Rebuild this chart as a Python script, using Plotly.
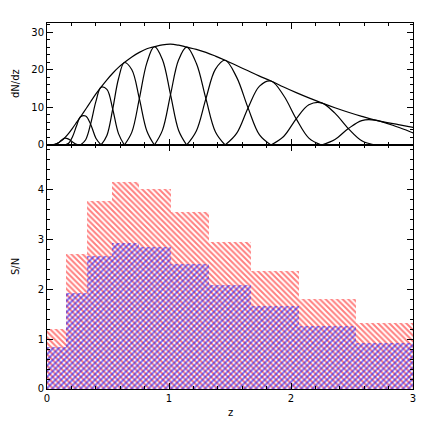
import plotly.graph_objects as go

# redshift grid (quarter steps between bin nodes) and total dN/dz
ENV_Z = [0.035, 0.0625, 0.09, 0.1175,
         0.145, 0.1775, 0.21, 0.2425,
         0.275, 0.317, 0.359, 0.401,
         0.443, 0.491, 0.5385, 0.586,
         0.634, 0.6955, 0.757, 0.8185,
         0.88, 0.946, 1.0125, 1.079,
         1.145, 1.224, 1.3025, 1.381,
         1.46, 1.554, 1.648, 1.742,
         1.836, 1.9395, 2.043, 2.1465,
         2.25, 2.36, 2.47, 2.58,
         2.69, 2.88, 3.07, 3.26,
         3.45]
ENV_DNDZ = [0.0, 0.15, 0.5, 1.1,
            1.9, 3.1, 4.5, 6.0,
            7.5, 9.5, 11.55, 13.55,
            15.35, 17.3, 19.05, 20.6,
            21.9, 23.4, 24.6, 25.55,
            26.1, 26.6, 26.8, 26.5,
            26.0, 25.4, 24.6, 23.6,
            22.5, 21.1, 19.7, 18.3,
            17.0, 15.4, 13.9, 12.5,
            11.2, 9.9, 8.7, 7.6,
            6.6, 5.4, 4.3, 3.4,
            2.7]

# per-bin dN/dz, each on ENV_Z[4k : 4k+9]
BIN_DNDZ = [
    [0, 0.1, 0.5, 1.25, 1.8, 1.55, 0.8, 0.2, 0],
    [0, 0.45, 2.25, 5.1, 7.5, 7.7, 5.4, 1.8, 0],
    [0, 1.39, 5.78, 11.57, 15.35, 14.77, 9.53, 3.01, 0],
    [0, 2.53, 9.53, 17.59, 21.9, 19.98, 12.3, 3.73, 0],
    [0, 3.42, 12.3, 21.82, 26.1, 22.72, 13.4, 3.87, 0],
    [0, 3.88, 13.4, 22.63, 26.0, 21.69, 12.3, 3.45, 0],
    [0, 3.71, 12.3, 20.15, 22.5, 18.02, 9.85, 2.67, 0],
    [0, 3.08, 9.85, 15.63, 17.0, 13.15, 6.95, 1.83, 0],
    [0, 2.25, 6.95, 10.68, 11.2, 8.45, 4.35, 1.11, 0],
    [0, 1.45, 4.35, 6.49, 6.6, 4.7, 2.4, 0.6, 0],
]

# S/N histogram
BIN_EDGES = [0.0, 0.158, 0.33, 0.53, 0.757, 1.02, 1.328, 1.672, 2.068, 2.53, 3.0]
SN_RED = [1.20, 2.71, 3.78, 4.16, 4.02, 3.56, 2.96, 2.37, 1.80, 1.32]
SN_BLUE = [0.84, 1.92, 2.67, 2.94, 2.85, 2.52, 2.09, 1.67, 1.27, 0.92]

centers = [(a + b) / 2 for a, b in zip(BIN_EDGES[:-1], BIN_EDGES[1:])]
widths = [b - a for a, b in zip(BIN_EDGES[:-1], BIN_EDGES[1:])]

fig = go.Figure()

# top panel: redshift distributions
fig.add_trace(go.Scatter(
    x=ENV_Z, y=ENV_DNDZ, mode='lines',
    line=dict(color='black', width=1.2, shape='spline'),
    xaxis='x2', yaxis='y2', showlegend=False, hoverinfo='skip',
))
for k, vals in enumerate(BIN_DNDZ):
    fig.add_trace(go.Scatter(
        x=ENV_Z[4 * k:4 * k + 9], y=vals, mode='lines',
        line=dict(color='black', width=1.2, shape='spline'),
        xaxis='x2', yaxis='y2', showlegend=False, hoverinfo='skip',
    ))

# bottom panel: hatched histograms
clear = 'rgba(0,0,0,0)'
fig.add_trace(go.Bar(
    x=centers, y=SN_RED, width=widths,
    marker=dict(color=clear, line=dict(width=0),
                pattern=dict(shape='\\', fgcolor='#ff0000', bgcolor=clear,
                             size=4, solidity=0.5)),
    showlegend=False,
))
fig.add_trace(go.Bar(
    x=centers, y=SN_BLUE, width=widths,
    marker=dict(color=clear, line=dict(width=0),
                pattern=dict(shape='/', fgcolor='#0000ff', bgcolor=clear,
                             size=4, solidity=0.5)),
    showlegend=False,
))

axis_style = dict(
    showline=True, linecolor='black', linewidth=1, mirror='allticks',
    ticks='inside', ticklen=6, tickwidth=1, tickcolor='black',
    showgrid=False, zeroline=False, automargin=False,
)
minor_style = dict(ticklen=3, ticks='inside', tickcolor='black')

# the page body adds an 8px offset, so the figure is 428 px with margins shifted
fig.update_layout(
    width=428, height=428,
    margin=dict(l=39, r=23, t=15, b=47),
    paper_bgcolor='white', plot_bgcolor='white',
    font=dict(family='DejaVu Sans', size=10, color='black'),
    barmode='overlay', bargap=0,
    xaxis=dict(domain=[0, 1], range=[0, 3], anchor='y', tick0=0, dtick=1,
               minor=dict(dtick=0.2, **minor_style), **axis_style),
    xaxis2=dict(domain=[0, 1], range=[0, 3], anchor='y2', matches='x',
                tick0=0, dtick=1, showticklabels=False,
                minor=dict(dtick=0.2, **minor_style), **axis_style),
    yaxis=dict(domain=[0, 0.6667], range=[0, 4.9], anchor='x', tick0=0, dtick=1,
               minor=dict(dtick=0.2, **minor_style), **axis_style),
    yaxis2=dict(domain=[0.6667, 1], range=[0, 32.4], anchor='x2', tick0=0, dtick=10,
                minor=dict(dtick=2, **minor_style), **axis_style),
    annotations=[
        dict(text='dN/dz', xref='paper', yref='paper', x=0, y=0.8333,
             xshift=-32, textangle=-90, showarrow=False,
             xanchor='center', yanchor='middle'),
        dict(text='S/N', xref='paper', yref='paper', x=0, y=0.3333,
             xshift=-32, textangle=-90, showarrow=False,
             xanchor='center', yanchor='middle'),
        dict(text='z', xref='paper', yref='paper', x=0.5, y=0,
             yshift=-23, showarrow=False, xanchor='center', yanchor='middle'),
    ],
)

fig.write_html("out.html")
